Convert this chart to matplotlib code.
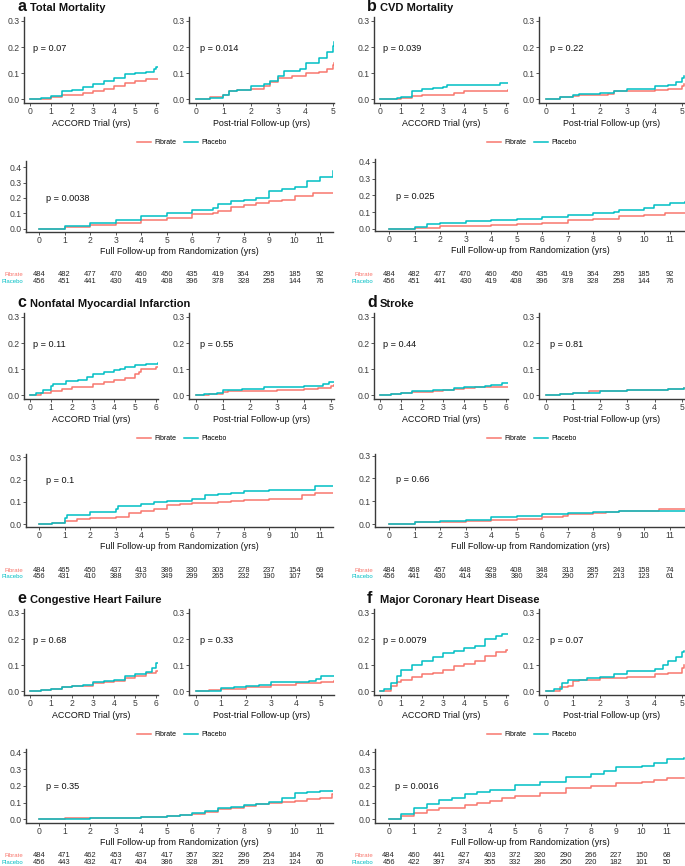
import matplotlib
matplotlib.use('Agg')
import matplotlib.pyplot as plt
from matplotlib.lines import Line2D
from matplotlib.transforms import blended_transform_factory

plt.rcParams['font.family'] = ['Liberation Sans', 'DejaVu Sans']

W, H = 685, 866
FIB = '#F8766D'
PLA = '#00BFC4'

# ---- data: (years, cumulative incidence) ----
# a Total Mortality
a_trial_fib = [(0, 0), (0.5, 0.003), (1, 0.007), (1.5, 0.015), (2, 0.018), (2.5, 0.025), (3, 0.03), (3.5, 0.04),
               (4, 0.05), (4.5, 0.062), (5, 0.072), (5.5, 0.077), (6.1, 0.078)]
a_trial_pla = [(0, 0), (0.5, 0.005), (1, 0.012), (1.5, 0.03), (2, 0.035), (2.5, 0.048), (3, 0.057), (3.5, 0.07),
               (4, 0.08), (4.5, 0.095), (5, 0.1), (5.5, 0.105), (5.9, 0.115), (6, 0.122), (6.1, 0.122)]
a_post_fib = [(0, 0), (0.5, 0.008), (1, 0.015), (1.2, 0.033), (1.5, 0.035), (2, 0.04), (2.5, 0.05), (2.7, 0.065),
              (3, 0.08), (3.5, 0.09), (4, 0.1), (4.5, 0.105), (4.8, 0.115), (5, 0.13), (5.05, 0.14)]
a_post_pla = [(0, 0), (0.5, 0.005), (1, 0.015), (1.2, 0.03), (1.5, 0.035), (2, 0.05), (2.5, 0.06), (2.7, 0.07),
              (3, 0.09), (3.2, 0.11), (3.8, 0.115), (4, 0.14), (4.5, 0.16), (4.8, 0.18), (5, 0.205), (5.05, 0.22)]
a_full_fib = [(0, 0), (1, 0.009), (2, 0.022), (3, 0.035), (4, 0.054), (5, 0.072), (6, 0.096), (6.8, 0.104),
              (7, 0.117), (7.5, 0.14), (8, 0.154), (8.5, 0.165), (9, 0.183), (9.5, 0.19), (10, 0.213),
              (10.7, 0.235), (11.5, 0.235)]
a_full_pla = [(0, 0), (1, 0.017), (2, 0.04), (3, 0.057), (4, 0.083), (5, 0.104), (6, 0.12), (6.8, 0.135),
              (7, 0.16), (7.5, 0.178), (8, 0.19), (8.5, 0.2), (9, 0.248), (9.5, 0.26), (10, 0.274), (10.5, 0.31),
              (11, 0.34), (11.5, 0.378)]

# b CVD Mortality
b_trial_fib = [(0, 0), (1, 0.005), (1.5, 0.012), (2, 0.015), (3, 0.018), (3.5, 0.025), (4, 0.03), (5, 0.033),
               (6.1, 0.035)]
b_trial_pla = [(0, 0), (0.8, 0.005), (1, 0.01), (1.5, 0.03), (2, 0.038), (2.5, 0.042), (3, 0.049), (3.2, 0.055),
               (5.6, 0.055), (5.7, 0.062), (6.1, 0.062)]
b_post_fib = [(0, 0), (0.5, 0.008), (1, 0.012), (1.2, 0.018), (2.3, 0.022), (2.5, 0.03), (3, 0.032), (4, 0.035),
              (4.5, 0.04), (5, 0.05), (5.1, 0.057)]
b_post_pla = [(0, 0.003), (0.5, 0.008), (1, 0.015), (1.2, 0.022), (2, 0.025), (2.5, 0.032), (3, 0.038),
              (3.8, 0.04), (4, 0.052), (4.5, 0.055), (4.8, 0.065), (5, 0.08), (5.1, 0.088)]
b_full_fib = [(0, 0), (1, 0.005), (2, 0.015), (3, 0.018), (4, 0.023), (5, 0.03), (6, 0.035), (7, 0.055),
              (8, 0.06), (9, 0.075), (10, 0.085), (10.8, 0.097), (11.6, 0.097)]
b_full_pla = [(0, 0), (1, 0.01), (1.5, 0.03), (2, 0.035), (3, 0.048), (4, 0.055), (5, 0.062), (6, 0.07),
              (7, 0.085), (8, 0.095), (8.8, 0.1), (9, 0.115), (10, 0.125), (10.4, 0.14), (11, 0.155), (11.6, 0.16)]

# c Nonfatal Myocardial Infarction
c_trial_fib = [(0, 0), (0.5, 0.008), (1, 0.015), (1.5, 0.025), (2, 0.03), (2.8, 0.032), (3, 0.045), (3.5, 0.052),
               (4, 0.06), (4.5, 0.068), (5, 0.08), (5.2, 0.09), (5.3, 0.1), (6, 0.108), (6.1, 0.108)]
c_trial_pla = [(0, 0), (0.3, 0.008), (0.6, 0.02), (1, 0.035), (1.1, 0.045), (1.7, 0.055), (2.3, 0.06),
               (2.7, 0.07), (3, 0.08), (3.5, 0.09), (4, 0.095), (4.3, 0.1), (4.5, 0.11), (5, 0.115), (5.5, 0.12),
               (6.1, 0.125)]
c_post_fib = [(0, 0), (0.5, 0.005), (1, 0.012), (1.2, 0.018), (3, 0.02), (3.5, 0.022), (4, 0.025), (4.5, 0.028),
              (5, 0.035), (5.1, 0.04)]
c_post_pla = [(0, 0), (0.3, 0.005), (0.8, 0.01), (1, 0.02), (1.7, 0.025), (2.5, 0.03), (3, 0.033), (4, 0.035),
              (4.7, 0.045), (4.9, 0.05), (5.1, 0.05)]
c_full_fib = [(0, 0), (0.5, 0.005), (1, 0.015), (1.5, 0.025), (2, 0.03), (3, 0.035), (3.5, 0.05), (4, 0.06),
              (4.5, 0.07), (5, 0.085), (5.5, 0.09), (6, 0.095), (7, 0.1), (7.5, 0.105), (8, 0.11), (9, 0.115),
              (10.3, 0.13), (10.8, 0.14), (11.5, 0.14)]
c_full_pla = [(0, 0), (0.5, 0.008), (1, 0.03), (1.1, 0.04), (2, 0.055), (3, 0.07), (3.1, 0.08), (4, 0.09),
              (4.5, 0.1), (5, 0.105), (6, 0.115), (6.5, 0.13), (7, 0.135), (7.5, 0.14), (8, 0.15), (9, 0.155),
              (10.8, 0.17), (11.5, 0.17)]

# d Stroke
d_trial_fib = [(0, 0), (0.5, 0.005), (1, 0.01), (1.5, 0.012), (2, 0.014), (2.5, 0.016), (3, 0.02), (3.5, 0.025),
               (4, 0.028), (4.5, 0.03), (5, 0.032), (6.1, 0.033)]
d_trial_pla = [(0, 0.002), (0.5, 0.005), (1, 0.01), (1.5, 0.015), (2, 0.017), (2.5, 0.02), (3, 0.022),
               (3.5, 0.027), (4, 0.03), (5, 0.035), (5.3, 0.04), (5.8, 0.048), (6.1, 0.048)]
d_post_fib = [(0, 0.003), (0.5, 0.006), (1, 0.01), (1.6, 0.018), (3, 0.02), (4.5, 0.025), (5.1, 0.028)]
d_post_pla = [(0, 0.002), (0.5, 0.005), (1, 0.008), (1.5, 0.01), (2, 0.015), (2.5, 0.018), (3, 0.02),
              (4, 0.022), (4.5, 0.024), (5.1, 0.027)]
d_full_fib = [(0, 0), (1, 0.008), (2, 0.012), (3, 0.015), (4, 0.02), (5, 0.025), (6, 0.03), (6.8, 0.035),
              (7, 0.045), (8, 0.05), (8.5, 0.055), (9, 0.058), (10.6, 0.068), (11.6, 0.068)]
d_full_pla = [(0, 0), (1, 0.01), (2, 0.015), (3, 0.02), (4, 0.03), (5, 0.035), (6, 0.045), (7, 0.048),
              (8, 0.055), (9, 0.058), (11.6, 0.058)]

# e Congestive Heart Failure
e_trial_fib = [(0, 0), (0.5, 0.005), (1, 0.01), (1.5, 0.015), (2, 0.02), (2.5, 0.022), (3, 0.03), (3.5, 0.035),
               (4, 0.04), (4.5, 0.05), (5, 0.06), (5.5, 0.07), (6, 0.078), (6.1, 0.078)]
e_trial_pla = [(0, 0), (0.5, 0.005), (1, 0.01), (1.5, 0.018), (2, 0.02), (2.5, 0.025), (3, 0.035), (3.5, 0.04),
               (4, 0.043), (4.5, 0.06), (5, 0.065), (5.5, 0.075), (5.8, 0.09), (6, 0.11), (6.1, 0.11)]
e_post_fib = [(0, 0), (0.5, 0.005), (1, 0.008), (2, 0.015), (3, 0.025), (4, 0.03), (5, 0.035), (5.5, 0.038)]
e_post_pla = [(0, 0), (0.5, 0.003), (1, 0.012), (1.5, 0.015), (2, 0.02), (2.5, 0.025), (3, 0.035), (4, 0.035),
              (4.5, 0.038), (4.8, 0.048), (5, 0.058), (5.5, 0.058)]
e_full_fib = [(0, 0), (1, 0.005), (2, 0.008), (3, 0.01), (4, 0.012), (5, 0.02), (5.5, 0.025), (6, 0.03),
              (6.5, 0.045), (7, 0.06), (7.5, 0.07), (8, 0.08), (8.5, 0.09), (9, 0.1), (9.5, 0.105), (10, 0.11),
              (10.5, 0.12), (11, 0.13), (11.45, 0.15), (11.5, 0.15)]
e_full_pla = [(0, 0), (1, 0.002), (2, 0.005), (3, 0.01), (4, 0.013), (5, 0.02), (5.5, 0.025), (6, 0.035),
              (6.5, 0.05), (7, 0.065), (7.5, 0.075), (8, 0.085), (8.5, 0.09), (9, 0.105), (9.5, 0.13),
              (10, 0.155), (10.5, 0.165), (11, 0.17), (11.5, 0.17)]

# f Major Coronary Heart Disease
f_trial_fib = [(0, 0), (0.5, 0.02), (0.8, 0.035), (1, 0.045), (1.5, 0.055), (2, 0.065), (2.5, 0.07), (3, 0.08),
               (3.5, 0.095), (4, 0.105), (4.5, 0.115), (5, 0.135), (5.5, 0.15), (6, 0.16), (6.1, 0.16)]
f_trial_pla = [(0, 0), (0.2, 0.01), (0.5, 0.03), (0.8, 0.06), (1, 0.08), (1.5, 0.1), (2, 0.115), (2.5, 0.13),
               (3, 0.145), (3.5, 0.155), (4, 0.165), (4.5, 0.175), (5, 0.2), (5.5, 0.21), (5.8, 0.22), (6.1, 0.22)]
f_post_fib = [(0, 0), (0.5, 0.015), (0.8, 0.02), (1, 0.04), (1.2, 0.045), (2, 0.05), (3, 0.055), (4, 0.065),
              (4.5, 0.07), (5, 0.09), (5.1, 0.1)]
f_post_pla = [(0, 0), (0.3, 0.01), (0.6, 0.03), (0.8, 0.045), (1.5, 0.05), (2, 0.055), (2.5, 0.065), (3, 0.078),
              (4, 0.085), (4.3, 0.1), (4.5, 0.115), (4.8, 0.13), (5, 0.15), (5.1, 0.155)]
f_full_fib = [(0, 0), (0.5, 0.02), (1, 0.04), (1.5, 0.055), (2, 0.065), (2.5, 0.07), (3, 0.085), (3.5, 0.1),
              (4, 0.11), (4.5, 0.125), (5, 0.14), (6, 0.16), (7, 0.185), (8, 0.2), (9, 0.215), (10, 0.225),
              (10.5, 0.235), (11, 0.245), (11.7, 0.245)]
f_full_pla = [(0, 0), (0.5, 0.03), (1, 0.07), (1.5, 0.09), (2, 0.115), (2.5, 0.13), (3, 0.15), (3.5, 0.165),
              (4, 0.175), (5, 0.205), (6, 0.225), (7, 0.25), (8, 0.27), (8.5, 0.29), (9, 0.315), (10, 0.32),
              (10.5, 0.335), (11, 0.36), (11.7, 0.365)]

letters = ['a', 'b', 'c', 'd', 'e', 'f']
titles = ['Total Mortality', 'CVD Mortality', 'Nonfatal Myocardial Infarction', 'Stroke',
          'Congestive Heart Failure', 'Major Coronary Heart Disease']
p_trial = ['0.07', '0.039', '0.11', '0.44', '0.68', '0.0079']
p_post = ['0.014', '0.22', '0.55', '0.81', '0.33', '0.07']
p_full = ['0.0038', '0.025', '0.1', '0.66', '0.35', '0.0016']

# numbers at risk, years 0..11
risk_fib = [
    [484, 482, 477, 470, 460, 450, 435, 419, 364, 295, 185, 92],
    [484, 482, 477, 470, 460, 450, 435, 419, 364, 295, 185, 92],
    [484, 465, 450, 437, 413, 386, 330, 303, 278, 237, 154, 69],
    [484, 468, 457, 448, 429, 408, 348, 313, 285, 243, 158, 74],
    [484, 471, 462, 453, 437, 417, 357, 322, 296, 254, 164, 76],
    [484, 460, 441, 427, 403, 372, 320, 290, 266, 227, 150, 68],
]
risk_pla = [
    [456, 451, 441, 430, 419, 408, 396, 378, 328, 258, 144, 76],
    [456, 451, 441, 430, 419, 408, 396, 378, 328, 258, 144, 76],
    [456, 431, 410, 388, 370, 349, 299, 265, 232, 190, 107, 54],
    [456, 441, 430, 414, 398, 380, 324, 290, 257, 213, 123, 61],
    [456, 443, 432, 417, 404, 386, 328, 291, 259, 213, 124, 60],
    [456, 422, 397, 374, 355, 332, 286, 250, 220, 182, 101, 50],
]

curves = [
    (a_trial_fib, a_trial_pla, a_post_fib, a_post_pla, a_full_fib, a_full_pla),
    (b_trial_fib, b_trial_pla, b_post_fib, b_post_pla, b_full_fib, b_full_pla),
    (c_trial_fib, c_trial_pla, c_post_fib, c_post_pla, c_full_fib, c_full_pla),
    (d_trial_fib, d_trial_pla, d_post_fib, d_post_pla, d_full_fib, d_full_pla),
    (e_trial_fib, e_trial_pla, e_post_fib, e_post_pla, e_full_fib, e_full_pla),
    (f_trial_fib, f_trial_pla, f_post_fib, f_post_pla, f_full_fib, f_full_pla),
]

# ---- layout (pixels) ----
row_off = [0, 0, 296, 296, 592, 592]
col_off = [0, 350, 0, 350, 0, 350]
post_xlim = [(-0.255, 5.04), (-0.26, 5.12), (-0.25, 5.1), (-0.26, 5.12), (-0.28, 5.52), (-0.26, 5.12)]
full_xlim = [(-0.51, 11.5), (-0.55, 11.6), (-0.51, 11.5), (-0.55, 11.6), (-0.51, 11.5), (-0.54, 11.72)]
full_rect_y = [(161, 232), (159, 231), (158, 231), (158, 231), (157, 231), (157, 231)]
full_ylim = [(-0.0215, 0.441), (-0.012, 0.416), (-0.012, 0.315), (-0.012, 0.307), (-0.022, 0.42), (-0.022, 0.42)]
full_yticks = [0.4, 0.4, 0.3, 0.3, 0.4, 0.4]
risk_y = [(274.7, 281.3), (274.7, 281.3), (274, 280.7), (274, 280.7), (263.7, 270.7), (263.7, 270.7)]

fig = plt.figure(figsize=(W / 100, H / 100), dpi=100)


def px_axes(x0, x1, y0, y1):
    return fig.add_axes([x0 / W, 1 - y1 / H, (x1 - x0) / W, (y1 - y0) / H])


def style(ax):
    for s in ['top', 'right']:
        ax.spines[s].set_visible(False)
    for s in ['left', 'bottom']:
        ax.spines[s].set_color('#3a3a3a')
        ax.spines[s].set_linewidth(1.0)
    ax.tick_params(direction='out', length=2, width=0.6, color='#3a3a3a',
                   labelsize=6.2, labelcolor='#3d3d3d', pad=1.2)
    ax.patch.set_alpha(0)


def draw(ax, fib, pla):
    tf, yf = zip(*fib)
    tp, yp = zip(*pla)
    ax.step(tf, yf, where='post', color=FIB, lw=1.1)
    ax.step(tp, yp, where='post', color=PLA, lw=1.1)


for i in range(6):
    ro, co = row_off[i], col_off[i]
    tr_f, tr_p, po_f, po_p, fu_f, fu_p = curves[i]

    # title
    fig.text((co + 17) / W, 1 - (ro + 11) / H, letters[i], fontsize=11.5, fontweight='bold',
             ha='left', va='baseline', color='#111111')
    fig.text((co + 30) / W, 1 - (ro + 11) / H, titles[i], fontsize=8, fontweight='bold',
             ha='left', va='baseline', color='#111111')

    # ACCORD trial
    ax1 = px_axes(co + 24, co + 158, ro + 17, ro + 103)
    draw(ax1, tr_f, tr_p)
    ax1.set_xlim(-0.286, 6.095)
    ax1.set_ylim(-0.0142, 0.3153)
    ax1.set_xticks(range(0, 7))
    ax1.set_yticks([0, 0.1, 0.2, 0.3])
    ax1.set_yticklabels(['0.0', '0.1', '0.2', '0.3'])
    ax1.set_xlabel('ACCORD Trial (yrs)', fontsize=6.4, labelpad=1.5, color='#111111')
    ax1.text(0.14, 0.195, 'p = ' + p_trial[i], fontsize=6.6, va='center', ha='left', color='#111111')
    style(ax1)

    # post-trial
    ax2 = px_axes(co + 189, co + 334 + (1 if co else 0), ro + 17, ro + 103)
    draw(ax2, po_f, po_p)
    ax2.set_xlim(*post_xlim[i])
    ax2.set_ylim(-0.0142, 0.3153)
    ax2.set_xticks(range(0, 6))
    ax2.set_yticks([0, 0.1, 0.2, 0.3])
    ax2.set_yticklabels(['0.0', '0.1', '0.2', '0.3'])
    ax2.set_xlabel('Post-trial Follow-up (yrs)', fontsize=6.4, labelpad=1.5, color='#111111')
    ax2.text(0.15, 0.195, 'p = ' + p_post[i], fontsize=6.6, va='center', ha='left', color='#111111')
    style(ax2)

    # legend
    handles = [Line2D([], [], color=FIB, lw=1.1), Line2D([], [], color=PLA, lw=1.1)]
    fig.legend(handles, ['Fibrate', 'Placebo'], loc='center', ncol=2, frameon=False,
               bbox_to_anchor=((co + 182) / W, 1 - (ro + 143) / H), fontsize=5.0,
               handlelength=2.0, handletextpad=0.6, columnspacing=1.0, borderpad=0)

    # full follow-up
    y0, y1 = full_rect_y[i]
    ax3 = px_axes(co + 26 if co == 0 else co + 25, co + 333 if co == 0 else 685, ro + y0, ro + y1)
    draw(ax3, fu_f, fu_p)
    ax3.set_xlim(*full_xlim[i])
    ax3.set_ylim(*full_ylim[i])
    ax3.set_xticks(range(0, 12))
    yt = [k / 10 for k in range(int(round(full_yticks[i] * 10)) + 1)]
    ax3.set_yticks(yt)
    ax3.set_yticklabels(['%.1f' % v for v in yt])
    ax3.set_xlabel('Full Follow-up from Randomization (yrs)', fontsize=6.4, labelpad=1.0, color='#111111')
    ax3.text(0.27, 0.195, 'p = ' + p_full[i], fontsize=6.6, va='center', ha='left', color='#111111')
    style(ax3)

    # numbers at risk
    trans = blended_transform_factory(ax3.transData, fig.transFigure)
    ry_f, ry_p = risk_y[i]
    for k in range(12):
        ax3.text(k, 1 - (ro + ry_f) / H, str(risk_fib[i][k]), transform=trans, ha='center', va='center',
                 fontsize=5.4, color='#222222', clip_on=False)
        ax3.text(k, 1 - (ro + ry_p) / H, str(risk_pla[i][k]), transform=trans, ha='center', va='center',
                 fontsize=5.4, color='#222222', clip_on=False)
    fig.text((co + 23) / W, 1 - (ro + ry_f) / H, 'Fibrate', ha='right', va='center', fontsize=4.3, color=FIB)
    fig.text((co + 23) / W, 1 - (ro + ry_p) / H, 'Placebo', ha='right', va='center', fontsize=4.3, color=PLA)

fig.savefig('out.png', dpi=100)
